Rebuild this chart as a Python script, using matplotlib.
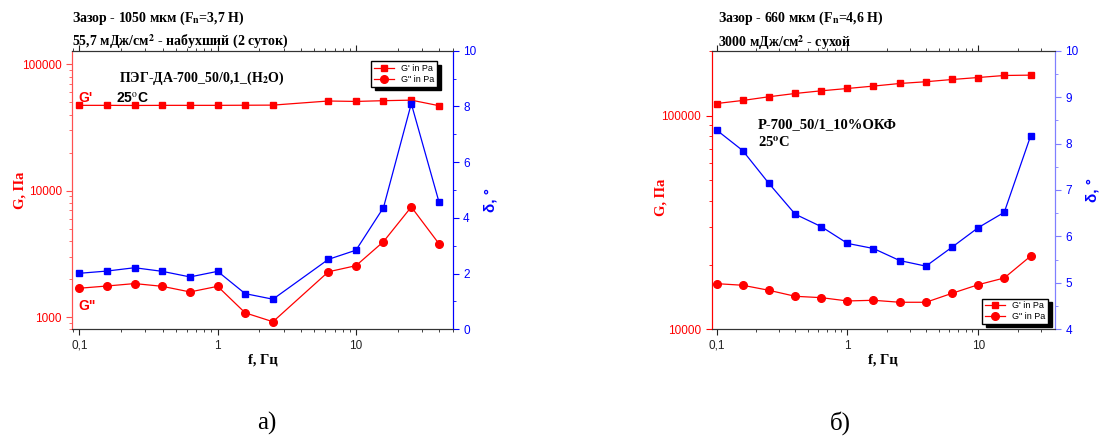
import matplotlib
matplotlib.use('Agg')
import matplotlib.pyplot as plt
from matplotlib.ticker import FixedLocator, NullFormatter, LogLocator, MultipleLocator

plt.rcParams['font.family'] = ['Liberation Sans', 'DejaVu Sans']
plt.rcParams['mathtext.fontset'] = 'stix'

# (а) swollen sample, 1050 um gap
f_a = [0.1, 0.158, 0.251, 0.398, 0.631, 1.0, 1.58, 2.51, 6.31, 10.0, 15.8, 25.1, 39.8]
g1_a = [47300, 47300, 47200, 47300, 47300, 47300, 47400, 47500, 51200, 50800, 51500, 52000, 47000]
g2_a = [1690, 1760, 1840, 1750, 1580, 1750, 1080, 918, 2280, 2550, 3950, 7430, 3800]
d_a = [2.01, 2.09, 2.21, 2.08, 1.88, 2.08, 1.28, 1.08, 2.51, 2.84, 4.37, 8.1, 4.57]

# (б) dry sample, 660 um gap
f_b = [0.1, 0.158, 0.251, 0.398, 0.631, 1.0, 1.58, 2.51, 3.98, 6.31, 10.0, 15.8, 25.1]
g1_b = [113800, 117600, 122400, 126800, 130500, 133800, 137300, 141200, 143900, 147400, 150600, 153900, 154500]
g2_b = [16350, 16070, 15220, 14270, 14060, 13570, 13670, 13380, 13380, 14740, 16170, 17380, 21980]
d_b = [8.29, 7.85, 7.14, 6.48, 6.21, 5.85, 5.74, 5.48, 5.36, 5.77, 6.19, 6.52, 8.16]

W, H = 1101, 447
fig = plt.figure(figsize=(W / 100, H / 100), dpi=100)

RED = '#ff0000'
BLUE = '#0000ff'
serif = ['Liberation Serif', 'DejaVu Serif']


def px(x0, y0, x1, y1):
    return [x0 / W, 1 - y1 / H, (x1 - x0) / W, (y1 - y0) / H]


def panel(rect, f, g1, g2, d, xlim, ylim, yticks, dlim, dmajor, lcol, rcol):
    ax = fig.add_axes(rect)
    ax2 = ax.twinx()
    ax.set_xscale('log')
    ax.set_yscale('log')
    ax.set_xlim(*xlim)
    ax.set_ylim(*ylim)
    ax2.set_ylim(*dlim)

    l1, = ax.plot(f, g1, color=RED, marker='s', ms=5, lw=0.9, label="G' in Pa")
    l2, = ax.plot(f, g2, color=RED, marker='o', ms=5.5, lw=0.9, label='G" in Pa')
    ax2.plot(f, d, color=BLUE, marker='s', ms=5, lw=0.9)

    ax.xaxis.set_major_locator(FixedLocator([0.1, 1, 10]))
    ax.set_xticklabels(['0,1', '1', '10'])
    ax.xaxis.set_minor_locator(LogLocator(base=10, subs=range(2, 10)))
    ax.xaxis.set_minor_formatter(NullFormatter())
    ax.tick_params(axis='x', which='both', direction='out', top=True, labelsize=8.5, colors='#222222')
    ax.tick_params(axis='x', which='major', length=4)
    ax.tick_params(axis='x', which='minor', length=2.5)

    ax.yaxis.set_major_locator(FixedLocator(yticks))
    ax.set_yticklabels([str(v) for v in yticks])
    ax.yaxis.set_minor_locator(LogLocator(base=10, subs=range(2, 10)))
    ax.yaxis.set_minor_formatter(NullFormatter())
    ax.tick_params(axis='y', which='both', colors=lcol, labelcolor=RED, labelsize=8.5)
    ax.tick_params(axis='y', which='major', length=4)
    ax.tick_params(axis='y', which='minor', length=2.5)

    ax2.yaxis.set_major_locator(MultipleLocator(dmajor))
    ax2.yaxis.set_minor_locator(MultipleLocator(dmajor / 2))
    ax2.tick_params(axis='y', which='both', colors=rcol, labelcolor=BLUE, labelsize=8.5)
    ax2.tick_params(axis='y', which='major', length=4)
    ax2.tick_params(axis='y', which='minor', length=2.5)

    for a in (ax, ax2):
        a.spines['left'].set_color(lcol)
        a.spines['right'].set_color(rcol)
        a.spines['top'].set_color('#333333')
        a.spines['bottom'].set_color('#333333')

    ax.set_xlabel('f, Гц', family=serif, weight='bold', fontsize=10.5, labelpad=1)
    ax.set_ylabel('G, Па', family=serif, weight='bold', fontsize=10.5, color=RED)
    ax2.set_ylabel('δ, °', weight='bold', fontsize=11, color=BLUE)
    return ax, ax2, [l1, l2]


legend_kw = dict(fontsize=6.5, fancybox=False, edgecolor='black', framealpha=1,
                 borderpad=0.3, handlelength=2.2, labelspacing=0.2, borderaxespad=0,
                 shadow={'color': 'black', 'alpha': 1, 'ox': 2.5, 'oy': -2.5})

# ---------- panel a ----------
ax, ax2, hl = panel(px(72.3, 50.7, 452.7, 329.3), f_a, g1_a, g2_a, d_a,
                    (0.089, 50), (800, 128000), [1000, 10000, 100000],
                    (0, 10), 2, '#ff5050', BLUE)
ax.yaxis.set_label_coords(-0.12, 0.5)
ax2.yaxis.set_label_coords(1.08, 0.465)
ax2.legend(handles=hl, loc='upper right', bbox_to_anchor=(0.959, 0.962), **legend_kw)

fig.text(72 / W, 1 - 18 / H, 'Зазор - 1050 мкм (F$_\\mathbf{n}$=3,7 Н)', family=serif,
         weight='bold', fontsize=10, va='center')
fig.text(72 / W, 1 - 42 / H, '55,7 мДж/см$^\\mathbf{2}$ - набухший (2 суток)', family=serif,
         weight='bold', fontsize=10, va='center')
ax2.text(0.122, 0.9, 'ПЭГ-ДА-700_50/0,1_(H$_\\mathbf{2}$O)', transform=ax.transAxes,
         family=serif, weight='bold', fontsize=10, va='center')
ax2.text(0.115, 0.83, '25$^\\mathrm{o}$C', transform=ax.transAxes, weight='bold',
         fontsize=10, va='center')
ax2.text(0.015, 0.83, "G'", transform=ax.transAxes, weight='bold', fontsize=10,
         color=RED, va='center')
ax2.text(0.015, 0.085, 'G"', transform=ax.transAxes, weight='bold', fontsize=10,
         color=RED, va='center')

# ---------- panel b ----------
bx, bx2, hl = panel(px(711.7, 50.7, 1055, 329.3), f_b, g1_b, g2_b, d_b,
                    (0.0916, 38.6), (10000, 201000), [10000, 100000],
                    (4, 10), 1, RED, '#7f7fff')
bx.yaxis.set_label_coords(-0.13, 0.475)
bx2.yaxis.set_label_coords(1.09, 0.5)
bx2.legend(handles=hl, loc='lower right', bbox_to_anchor=(0.98, 0.019), **legend_kw)

fig.text(718 / W, 1 - 18 / H, 'Зазор - 660 мкм (F$_\\mathbf{n}$=4,6 Н)', family=serif,
         weight='bold', fontsize=10, va='center')
fig.text(718 / W, 1 - 43 / H, '3000 мДж/см$^\\mathbf{2}$ - сухой', family=serif,
         weight='bold', fontsize=10, va='center')
bx2.text(0.135, 0.735, 'P-700_50/1_10%ОКФ', transform=bx.transAxes, family=serif,
         weight='bold', fontsize=10.5, va='center')
bx2.text(0.135, 0.67, '25$^\\mathbf{o}$C', transform=bx.transAxes, family=serif,
         weight='bold', fontsize=10.5, va='center')

fig.text(267 / W, 1 - 423 / H, 'а)', family=serif, fontsize=18, ha='center', va='center')
fig.text(840 / W, 1 - 423 / H, 'б)', family=serif, fontsize=18, ha='center', va='center')

fig.savefig('out.png', dpi=100)
